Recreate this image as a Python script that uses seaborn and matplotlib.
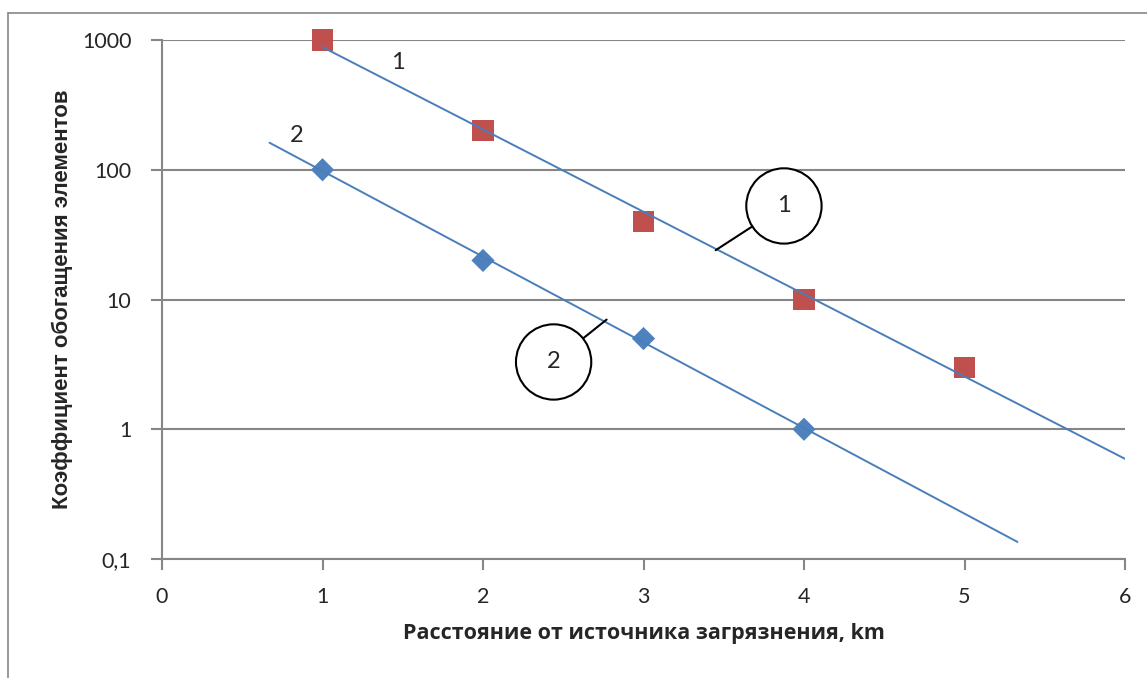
import numpy as np
import pandas as pd
import matplotlib
matplotlib.use('Agg')
import matplotlib.pyplot as plt
from matplotlib.lines import Line2D
import seaborn as sns

# data
dist_1 = [1, 2, 3, 4, 5]
coef_1 = [1000, 200, 40, 10, 3]
dist_2 = [1, 2, 3, 4]
coef_2 = [100, 20, 5, 1]

# trendline ranges (with forecast) as in the original
trend_range_1 = [1.0, 6.0]
trend_range_2 = [0.67, 5.33]

y_ticks = [0.1, 1, 10, 100, 1000]
y_tick_labels = ['0,1', '1', '10', '100', '1000']
x_ticks = [0, 1, 2, 3, 4, 5, 6]

red = '#C0504D'
blue = '#4F81BD'
trend_col = '#4A7EBB'
grid_col = '#868686'

sns.set_style('white')
plt.rcParams['font.family'] = ['Lato', 'DejaVu Sans']

fig = plt.figure(figsize=(11.47, 6.78), dpi=100)
ax = fig.add_axes([162 / 1147, 1 - 559 / 678, (1125 - 162) / 1147, (559 - 40) / 678])

df = pd.concat([
    pd.DataFrame({'x': dist_1, 'y': coef_1, 'series': '1'}),
    pd.DataFrame({'x': dist_2, 'y': coef_2, 'series': '2'}),
])


def exp_trend(xs, ys, rng):
    # excel-style exponential trendline: straight fit in log space
    k, b = np.polyfit(xs, np.log10(ys), 1)
    xx = np.linspace(rng[0], rng[1], 20)
    return pd.DataFrame({'x': xx, 'y': 10 ** (k * xx + b)})


t1 = exp_trend(dist_1, coef_1, trend_range_1)
t2 = exp_trend(dist_2, coef_2, trend_range_2)

ax.set_yscale('log')
for y in y_ticks:
    ax.axhline(y, color=grid_col, lw=1.5, zorder=0)

sns.lineplot(data=t1, x='x', y='y', color=trend_col, lw=1.4, ax=ax, zorder=3)
sns.lineplot(data=t2, x='x', y='y', color=trend_col, lw=1.4, ax=ax, zorder=3)

sns.scatterplot(data=df, x='x', y='y', hue='series', style='series',
                palette={'1': red, '2': blue}, markers={'1': 's', '2': 'D'},
                size='series', sizes={'1': 240, '2': 140},
                edgecolor='none', legend=False, ax=ax, zorder=2, clip_on=False)

ax.set_xlim(0, 6)
ax.set_ylim(0.1, 1000)
ax.set_yticks(y_ticks)
ax.set_yticklabels(y_tick_labels)
ax.set_xticks(x_ticks)
ax.yaxis.set_minor_locator(matplotlib.ticker.NullLocator())

for s in ['top', 'right']:
    ax.spines[s].set_visible(False)
for s in ['left', 'bottom']:
    ax.spines[s].set_color(grid_col)
    ax.spines[s].set_linewidth(1.5)

ax.tick_params(axis='both', which='major', direction='out', length=8, width=1.5,
               color=grid_col, labelsize=15.5, left=True, bottom=True)
ax.tick_params(axis='y', pad=14)
ax.tick_params(axis='x', pad=12)

ax.set_xlabel('Расстояние от источника загрязнения, km', fontsize=15.5,
              fontweight='bold', family=['Open Sans', 'DejaVu Sans'], va='center')
ax.xaxis.set_label_coords(0.5, (559 - 634) / 519)
ax.set_ylabel('Коэффициент обогащения элементов', fontsize=16, fontweight='bold',
              family=['Liberation Sans', 'DejaVu Sans'], va='center')
ax.yaxis.set_label_coords((62 - 162) / 963, 0.5)

# line labels
ax.text(1.47, 676, '1', fontsize=17, ha='center', va='center')
ax.text(0.84, 185, '2', fontsize=17, ha='center', va='center')

# callouts
circle = dict(boxstyle='circle,pad=1.15', fc='white', ec='black', lw=1.5)
leader = dict(arrowstyle='-', color='black', lw=1.5, shrinkA=0, shrinkB=0)
ax.annotate('1', xy=(3.45, 24), xytext=(3.875, 52.6), fontsize=17,
            ha='center', va='center', bbox=circle, arrowprops=leader, zorder=5)
ax.annotate('2', xy=(2.77, 7.0), xytext=(2.44, 3.3), fontsize=17,
            ha='center', va='center', bbox=circle, arrowprops=leader, zorder=5)

# outer chart frame (left and top only visible)
fig.add_artist(Line2D([8 / 1147, 8 / 1147], [0, 1 - 13 / 678], color=grid_col, lw=1.2))
fig.add_artist(Line2D([8 / 1147, 1], [1 - 13 / 678, 1 - 13 / 678], color=grid_col, lw=1.2))

fig.savefig('out.png', dpi=100)
